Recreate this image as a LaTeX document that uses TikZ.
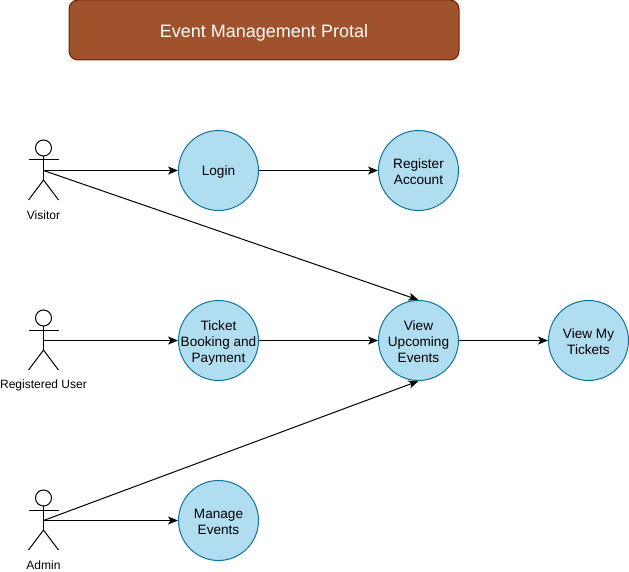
\documentclass[tikz,border=0pt]{standalone}
\usepackage{fontspec}
\setmainfont{Liberation Sans}
\usetikzlibrary{arrows.meta}

\definecolor{portalfill}{HTML}{A0522D}
\definecolor{portalline}{HTML}{6D1F00}
\definecolor{usecasefill}{HTML}{B1DDF0}
\definecolor{usecaseline}{HTML}{10739E}

% taller first line, sets the text a little lower in its node
\newcommand{\firstline}[1][12pt]{\rule{0pt}{#1}}

\tikzset{
  usecase/.style={circle, draw=usecaseline, fill=usecasefill, line width=1pt, minimum size=80pt, inner sep=-8pt, align=center, font=\fontsize{13.6}{16}\selectfont},
  portal/.style={draw=portalline, fill=portalfill, line width=1pt, rounded corners=9pt, minimum width=390pt, minimum height=60pt, text=white, font=\fontsize{18}{20}\selectfont},
  actorlabel/.style={font=\fontsize{12}{14}\selectfont, inner sep=0pt},
  link/.style={line width=1pt, -{Stealth[length=10pt,width=8pt,inset=2.5pt]}},
}

\begin{document}
\begin{tikzpicture}[x=1pt,y=-1pt]
  \useasboundingbox (0,0) rectangle (629,572);

  % Title bar
  \node[portal] (title) at (264,30) {\firstline[18pt]Event Management Protal};

  % Draw the actors with their labels
  \foreach \name/\y/\ylabel/\txt in {visitor/170/215/Visitor,reguser/340/385/Registered User,admin/520/565/Admin} {
    \draw[line width=1pt] (43.5,\y-22) circle (8);
    \draw[line width=1pt] (43.5,\y-14) -- (43.5,\y+10);
    \draw[line width=1pt] (28.5,\y-10) -- (58.5,\y-10);
    \draw[line width=1pt] (28.5,\y+30) -- (43.5,\y+10) -- (58.5,\y+30);
    \coordinate (\name) at (43.5,\y+0.5);
    \node[actorlabel] (\name-label) at (43.5,\ylabel) {\txt};
  }

  % Use cases
  \node[usecase] (login) at (218.5,170.5) {\firstline[13.5pt]Login};
  \node[usecase] (register) at (418.5,170.5) {\firstline Register\\Account};
  \node[usecase] (ticket) at (218.5,340.5) {\firstline[15.5pt]Ticket\\Booking and\\Payment};
  \node[usecase] (upcoming) at (418.5,340.5) {\firstline View\\Upcoming\\Events};
  \node[usecase] (mytickets) at (588.5,340.5) {\firstline View My\\Tickets};
  \node[usecase] (manage) at (218.5,520.5) {\firstline Manage\\Events};

  % Connectors
  \draw[link] (visitor) -- (login);
  \draw[link] (login) -- (register);
  \draw[link] (visitor) -- (upcoming.north);
  \draw[link] (reguser) -- (ticket);
  \draw[link] (ticket) -- (upcoming);
  \draw[link] (upcoming) -- (mytickets);
  \draw[link] (admin) -- (upcoming.south);
  \draw[link] (admin) -- (manage);
\end{tikzpicture}
\end{document}
